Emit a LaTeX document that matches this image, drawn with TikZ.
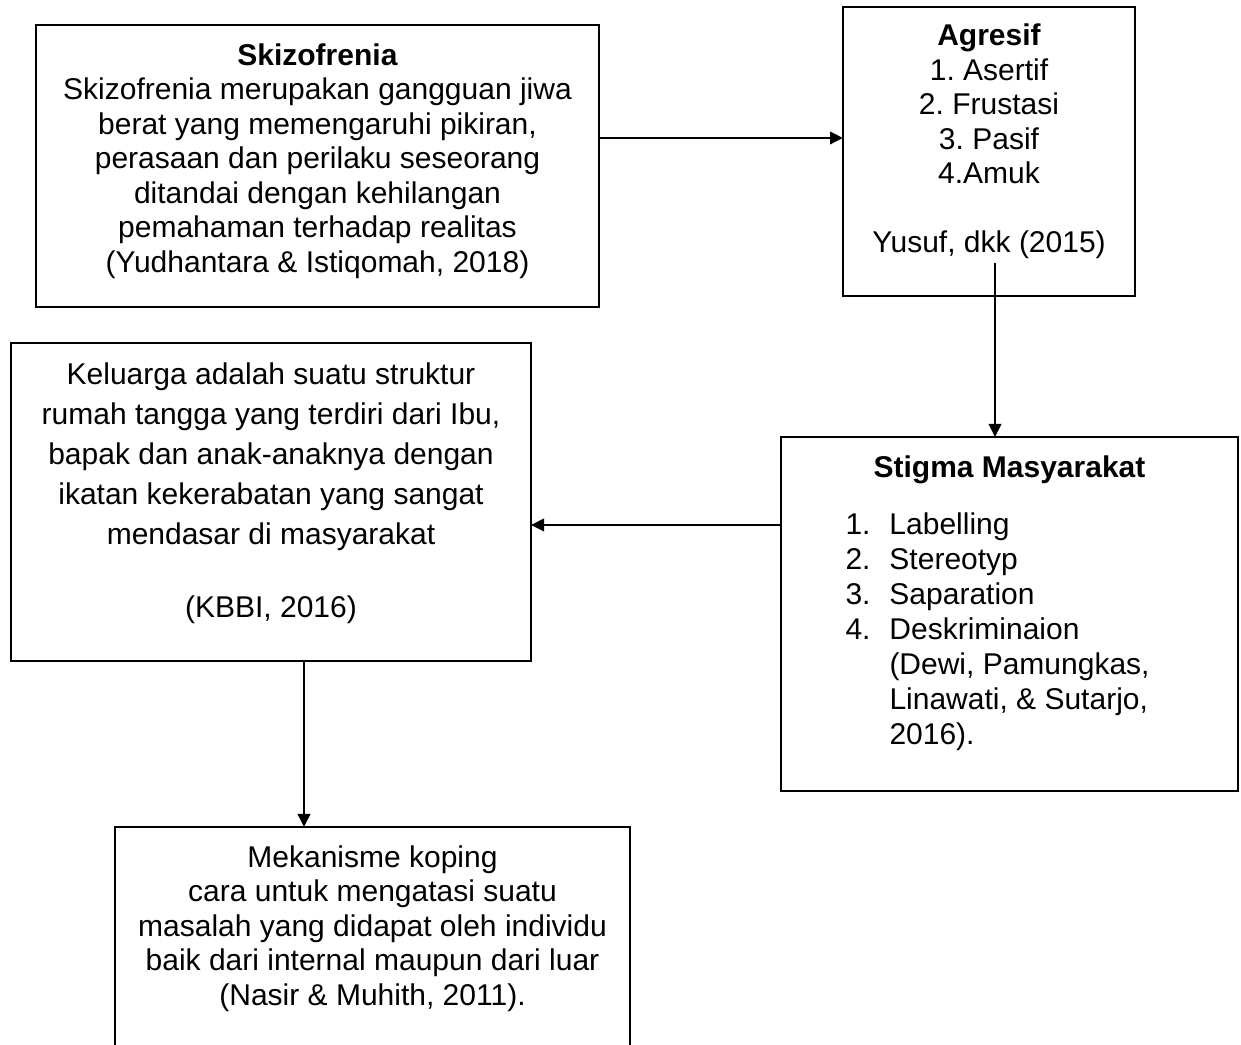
\documentclass[tikz,border=0pt]{standalone}
\usepackage{fontspec}
\setmainfont{Liberation Sans}
\usepackage{tikz}
\usetikzlibrary{positioning,calc,arrows.meta}

\frenchspacing
\newcommand{\nomor}[1]{\makebox[17.6pt][l]{#1}}

\tikzset{
    box/.style={draw, line width=0.8pt, inner sep=0pt, outer sep=0pt, anchor=north west},
    txt/.style={align=center, inner sep=0pt, font=\fontsize{12pt}{13.8pt}\selectfont},
    arr/.style={line width=0.8pt, -{Triangle[width=5pt,length=5.2pt]}}
}

\begin{document}
\begin{tikzpicture}[x=0.4pt,y=0.4pt]
    \useasboundingbox (0,0) rectangle (1241,1045);
    \clip (0,0) rectangle (1241,1045);

    % Boxes
    \node[box, minimum width=225.2pt, minimum height=112.8pt] (sk) at (36,1020) {};
    \node[box, minimum width=116.8pt, minimum height=115.6pt] (ag) at (843,1038) {};
    \node[box, minimum width=208pt, minimum height=127.2pt] (kel) at (11,702) {};
    \node[box, minimum width=182.8pt, minimum height=141.6pt] (stg) at (781,608) {};
    \node[box, minimum width=206pt, minimum height=104pt] (mek) at (115,218) {};

    % Texts
    \node[txt, below=7.2pt of sk.north] (sktext) {\textbf{Skizofrenia}\\
        Skizofrenia merupakan gangguan jiwa\\
        berat yang memengaruhi pikiran,\\
        perasaan dan perilaku seseorang\\
        ditandai dengan kehilangan\\
        pemahaman terhadap realitas\\
        (Yudhantara \& Istiqomah, 2018)};

    \node[txt, below=6.6pt of ag.north] (agtext) {\textbf{Agresif}\\
        1. Asertif\\
        2. Frustasi\\
        3. Pasif\\
        4.Amuk\\[13.8pt]
        Yusuf, dkk (2015)};

    \node[txt, font=\fontsize{12pt}{16pt}\selectfont, below=7.6pt of kel.north] (keltext) {Keluarga adalah suatu struktur\\
        rumah tangga yang terdiri dari Ibu,\\
        bapak dan anak-anaknya dengan\\
        ikatan kekerabatan yang sangat\\
        mendasar di masyarakat\\[13.2pt]
        (KBBI, 2016)};

    \node[txt, below=7.2pt of stg.north] (stgtitle) {\textbf{Stigma Masyarakat}};
    \node[txt, align=left, font=\fontsize{12pt}{14pt}\selectfont, below right=30pt and 25.6pt of stg.north west] (stglist) {\nomor{1.}Labelling\\
        \nomor{2.}Stereotyp\\
        \nomor{3.}Saparation\\
        \nomor{4.}Deskriminaion\\
        \nomor{}(Dewi, Pamungkas,\\
        \nomor{}Linawati, \& Sutarjo,\\
        \nomor{}2016).};

    \node[txt, below=7.2pt of mek.north] (mektext) {Mekanisme koping\\
        cara untuk mengatasi suatu\\
        masalah yang didapat oleh individu\\
        baik dari internal maupun dari luar\\
        (Nasir \& Muhith, 2011).};

    % Arrows
    \coordinate (agout) at ([xshift=2.4pt,yshift=13.2pt]ag.south);
    \draw[arr] ([yshift=11.2pt]sk.east) -- ([yshift=11.2pt]sk.east -| ag.west);
    \draw[arr] (agout) -- (agout |- stg.north);
    \draw[arr] ([yshift=35.6pt]stg.west) -- ([yshift=35.6pt]stg.west -| kel.east);
    \draw[arr] ([xshift=13.2pt]kel.south) -- ([xshift=13.2pt]kel.south |- mek.north);
\end{tikzpicture}
\end{document}
